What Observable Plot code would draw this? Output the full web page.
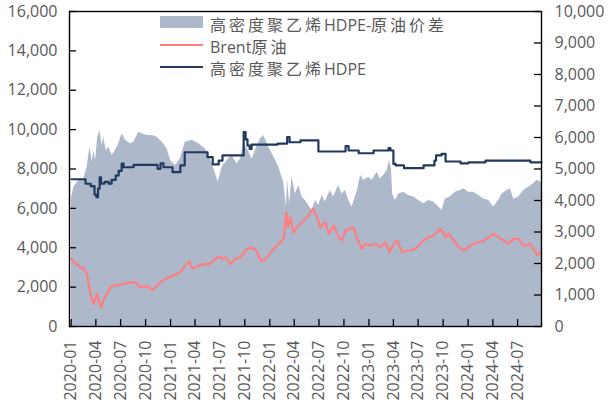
<!DOCTYPE html>
<html>
<head>
<meta charset="utf-8">
<script src="https://cdn.jsdelivr.net/npm/d3@7"></script>
<script src="https://cdn.jsdelivr.net/npm/@observablehq/plot@0.6"></script>
<style>
  html, body { margin: 0; padding: 0; background: #fff; }
  #wrap { position: relative; width: 608px; height: 407px; font-family: "Open Sans", "Noto Sans CJK SC", sans-serif; }
  .lg { position: absolute; font-size: 16px; line-height: 20px; color: #595959; white-space: nowrap; }
  .cjk { letter-spacing: 3px; font-family: "Noto Sans CJK SC", sans-serif; }
  .sw { position: absolute; }
</style>
</head>
<body>
<div id="wrap"></div>
<script>
// ---------- data ----------
const legendLabels = ["高密度聚乙烯HDPE-原油价差", "Brent原油", "高密度聚乙烯HDPE"];
const xTickLabels = ["2020-01","2020-04","2020-07","2020-10","2021-01","2021-04","2021-07","2021-10",
  "2022-01","2022-04","2022-07","2022-10","2023-01","2023-04","2023-07","2023-10","2024-01","2024-04","2024-07"];
const leftTicks = [0,2000,4000,6000,8000,10000,12000,14000,16000];
const rightTicks = [0,1000,2000,3000,4000,5000,6000,7000,8000,9000,10000];

// HDPE price (left axis, step changes)
const hdpe = [
["2020-01-02",7480],["2020-02-23",7250],["2020-03-13",7130],["2020-03-27",6700],["2020-04-03",6570],
["2020-04-09",7000],["2020-04-15",7580],["2020-04-20",7260],["2020-05-03",7350],["2020-05-18",7250],
["2020-05-29",7450],["2020-06-13",7670],["2020-06-24",7900],["2020-07-05",8280],["2020-07-12",8090],
["2020-08-18",8210],["2020-11-14",8010],["2020-11-25",8290],["2020-12-06",8090],["2021-01-08",7840],
["2021-02-06",8180],["2021-02-22",8850],["2021-05-17",8600],["2021-06-05",8230],["2021-06-27",8430],
["2021-07-11",8690],["2021-09-27",9870],["2021-10-04",9500],["2021-10-11",9190],["2021-10-19",9020],
["2021-10-26",9240],["2022-01-30",9290],["2022-03-06",9620],["2022-03-15",9360],["2022-04-24",9450],
["2022-06-29",8890],["2022-10-07",9160],["2022-10-18",8940],["2022-11-24",8800],["2023-01-18",8940],
["2023-03-14",9060],["2023-03-21",8940],["2023-04-01",8260],["2023-04-09",8180],["2023-05-10",8040],
["2023-07-21",8180],["2023-08-30",8430],["2023-09-05",8690],["2023-09-25",8770],["2023-10-10",8380],
["2023-12-04",8290],["2024-01-02",8340],["2024-03-05",8430],["2024-08-17",8340],["2024-09-27",8340]
];

// Brent crude (left axis)
const brent = [
["2020-01-02",3440],["2020-01-10",3270],["2020-01-28",3100],["2020-02-11",2930],["2020-02-16",2980],
["2020-02-29",2590],["2020-03-12",1660],["2020-03-24",1150],["2020-04-06",1660],["2020-04-14",1230],
["2020-04-21",980],["2020-04-30",1400],["2020-05-13",1660],["2020-05-25",2000],["2020-06-06",2080],
["2020-07-01",2130],["2020-07-25",2200],["2020-08-19",2250],["2020-08-31",2200],["2020-09-06",2000],
["2020-09-24",2050],["2020-10-13",2000],["2020-10-26",1860],["2020-11-06",2000],["2020-11-25",2250],
["2020-12-19",2470],["2021-01-13",2590],["2021-02-06",2760],["2021-03-03",3220],["2021-03-13",3270],
["2021-03-22",2930],["2021-04-09",3050],["2021-05-03",3180],["2021-05-22",3150],["2021-06-09",3350],
["2021-06-27",3560],["2021-07-10",3440],["2021-07-22",3520],["2021-08-09",3180],["2021-08-28",3440],
["2021-09-15",3520],["2021-10-10",3940],["2021-10-28",4000],["2021-11-13",3860],["2021-11-28",3350],
["2021-12-10",3350],["2021-12-22",3520],["2022-01-10",3860],["2022-01-28",4110],["2022-02-21",4450],
["2022-03-03",5800],["2022-03-08",5040],["2022-03-17",5550],["2022-03-29",4790],["2022-04-11",5040],
["2022-04-23",5210],["2022-05-19",5550],["2022-06-08",5980],["2022-06-24",5550],["2022-07-06",5040],
["2022-07-24",5300],["2022-08-06",4710],["2022-08-24",5130],["2022-09-11",4540],["2022-09-24",4370],
["2022-10-06",4880],["2022-10-24",4960],["2022-11-05",5040],["2022-11-17",4540],["2022-12-06",3950],
["2022-12-18",4200],["2023-01-06",4110],["2023-01-25",4200],["2023-02-12",4030],["2023-03-02",4280],
["2023-03-18",3770],["2023-04-02",4200],["2023-04-15",4370],["2023-05-03",3770],["2023-05-21",3860],
["2023-06-09",3860],["2023-06-27",4030],["2023-07-22",4370],["2023-08-09",4540],["2023-08-27",4620],
["2023-09-21",4960],["2023-10-01",4790],["2023-10-09",4540],["2023-10-21",4710],["2023-11-09",4370],
["2023-11-27",4030],["2023-12-16",3860],["2024-01-03",4030],["2024-01-21",4200],["2024-02-09",4280],
["2024-02-27",4370],["2024-03-17",4540],["2024-04-04",4710],["2024-04-22",4540],["2024-05-11",4370],
["2024-05-29",4200],["2024-06-17",4450],["2024-07-05",4450],["2024-07-23",4110],["2024-08-17",4200],
["2024-08-29",3950],["2024-09-11",3610],["2024-09-23",3770]
];

// HDPE - crude spread (right axis)
const spread = [
["2020-01-02",4060],["2020-01-11",4420],["2020-01-29",4640],["2020-02-17",4690],["2020-02-29",5060],
["2020-03-10",5690],["2020-03-19",5220],["2020-03-25",5590],["2020-03-31",5270],["2020-04-08",6010],
["2020-04-16",6220],["2020-04-24",5750],["2020-04-30",6010],["2020-05-09",5590],["2020-05-19",5690],
["2020-05-31",5430],["2020-06-12",5590],["2020-06-24",5800],["2020-07-07",6120],["2020-07-19",5910],
["2020-08-06",5800],["2020-08-19",5850],["2020-09-06",6170],["2020-09-18",6120],["2020-10-07",6060],
["2020-10-26",6060],["2020-11-13",6010],["2020-12-01",5850],["2020-12-19",5640],["2021-01-01",5270],
["2021-01-19",5110],["2021-02-06",5320],["2021-02-24",5850],["2021-03-22",5910],["2021-04-15",5800],
["2021-05-09",5640],["2021-05-28",5320],["2021-06-15",4850],["2021-06-25",4580],["2021-07-10",5060],
["2021-07-28",5270],["2021-08-15",5430],["2021-09-02",5170],["2021-09-15",5320],["2021-09-27",5800],
["2021-10-10",5640],["2021-10-28",5320],["2021-11-09",5590],["2021-11-28",5960],["2021-12-10",6060],
["2021-12-28",5690],["2022-01-16",5380],["2022-02-03",5060],["2022-02-21",4580],["2022-03-03",3790],
["2022-03-08",4640],["2022-03-15",3900],["2022-03-24",4740],["2022-04-05",4210],["2022-04-18",4480],
["2022-04-30",4110],["2022-05-12",4000],["2022-05-24",3840],["2022-06-06",3680],["2022-06-18",4000],
["2022-06-30",3840],["2022-07-13",4160],["2022-07-24",3950],["2022-08-12",4320],["2022-08-24",4110],
["2022-09-11",4480],["2022-09-24",4210],["2022-10-06",4320],["2022-10-19",4000],["2022-10-31",3790],
["2022-11-18",4260],["2022-12-01",4790],["2022-12-13",4640],["2022-12-31",4740],["2023-01-13",4640],
["2023-01-31",4900],["2023-02-12",4690],["2023-02-24",4790],["2023-03-09",4950],["2023-03-17",5270],
["2023-03-25",5000],["2023-03-29",4210],["2023-04-08",4000],["2023-04-21",4210],["2023-05-09",4260],
["2023-05-27",4160],["2023-06-15",4110],["2023-07-03",4000],["2023-07-22",3900],["2023-08-09",4000],
["2023-08-27",3950],["2023-09-15",3790],["2023-09-27",3680],["2023-10-09",4050],["2023-10-27",4110],
["2023-11-15",4260],["2023-12-04",4320],["2023-12-16",4370],["2024-01-03",4260],["2024-01-21",4260],
["2024-02-09",4160],["2024-02-27",4050],["2024-03-17",4000],["2024-04-04",3790],["2024-04-22",4000],
["2024-05-05",4210],["2024-05-23",4320],["2024-06-04",4370],["2024-06-17",4050],["2024-07-05",4110],
["2024-07-23",4320],["2024-08-11",4420],["2024-08-29",4530],["2024-09-11",4640],["2024-09-27",4580]
];

// ---------- build ----------
const parse = d3.utcParse("%Y-%m-%d");
const RATIO = 16000 / 10000; // right axis -> left axis units
const toRows = arr => arr.map(([d, v]) => ({date: parse(d), v}));
const hdpeRows = toRows(hdpe), brentRows = toRows(brent), spreadRows = toRows(spread);
const xTicks = xTickLabels.map(s => parse(s + "-01"));

const W = 608, H = 407, ML = 69, MR = 67, MT = 11, MB = 81;
const PW = W - ML - MR, PH = H - MT - MB, TK = 7;
const axisColor = "#000";

const chart = Plot.plot({
  width: W, height: H,
  marginLeft: ML, marginRight: MR, marginTop: MT, marginBottom: MB,
  style: {fontFamily: "'Open Sans', 'Noto Sans CJK SC', sans-serif", fontSize: "16px", color: "#595959", background: "#fff"},
  x: {type: "utc", domain: [parse("2019-12-26"), parse("2024-09-27")]},
  y: {domain: [0, 16000]},
  marks: [
    Plot.areaY(spreadRows, {x: "date", y: d => d.v * RATIO, fill: "#ADB9CA", curve: "linear"}),
    Plot.lineY(brentRows, {x: "date", y: "v", stroke: "#FF7C80", strokeWidth: 2.2}),
    Plot.lineY(hdpeRows, {x: "date", y: "v", stroke: "#22395f", strokeWidth: 2.2, curve: "step-after"}),
    Plot.frame({stroke: axisColor, strokeWidth: 1.4}),
    // inside tick marks
    Plot.ruleY(leftTicks, {y: d => d, stroke: axisColor, strokeWidth: 1.3, insetRight: PW - TK}),
    Plot.ruleY(rightTicks, {y: d => d * RATIO, stroke: axisColor, strokeWidth: 1.3, insetLeft: PW - TK}),
    Plot.ruleX(xTicks, {x: d => d, stroke: axisColor, strokeWidth: 1.3, insetTop: PH - TK}),
    // axis labels
    Plot.axisY({anchor: "left", ticks: leftTicks, tickSize: 0, tickPadding: 12, tickFormat: d3.format(","), label: null}),
    Plot.axisY({anchor: "right", ticks: rightTicks.map(v => v * RATIO), tickSize: 0, tickPadding: 13,
      tickFormat: d => d3.format(",")(Math.round(d / RATIO)), label: null}),
    Plot.axisX({ticks: xTicks, tickSize: 0, tickPadding: 14, tickRotate: -90,
      tickFormat: d => xTickLabels[xTicks.findIndex(t => +t === +d)], label: null})
  ]
});

const wrap = document.getElementById("wrap");
wrap.appendChild(chart);

// legend (inside plot area, top)
const splitCJK = s => s.replace(/([\u4e00-\u9fff]+)/g, '<span class="cjk">$1</span>');
const legendItems = [
  {label: legendLabels[0], type: "rect", color: "#ADB9CA", top: 14},
  {label: legendLabels[1], type: "line", color: "#FF7C80", top: 36},
  {label: legendLabels[2], type: "line", color: "#22395f", top: 58}
];
legendItems.forEach(it => {
  const sw = document.createElement("div");
  sw.className = "sw";
  sw.style.left = "160px";
  sw.style.width = "43px";
  sw.style.background = it.color;
  if (it.type === "rect") { sw.style.top = (it.top + 2) + "px"; sw.style.height = "12px"; }
  else { sw.style.top = (it.top + 8) + "px"; sw.style.height = "2.4px"; }
  wrap.appendChild(sw);
  const t = document.createElement("div");
  t.className = "lg";
  t.style.left = "210px";
  t.style.top = it.top + "px";
  t.innerHTML = splitCJK(it.label);
  wrap.appendChild(t);
});
</script>
</body>
</html>
